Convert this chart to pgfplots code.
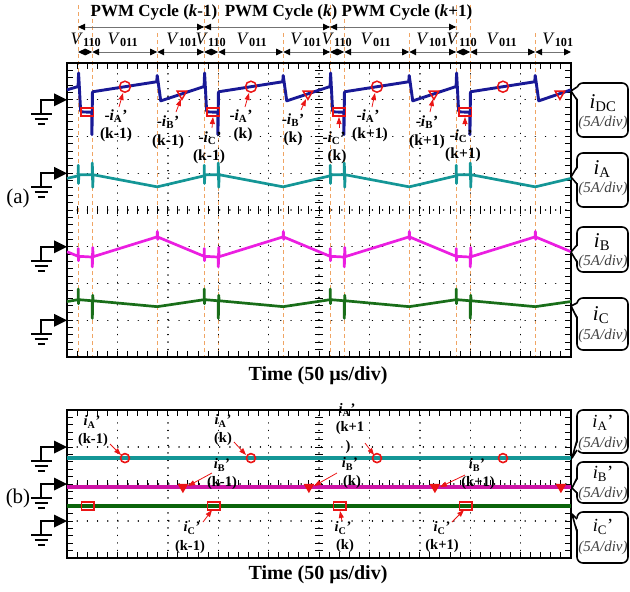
\documentclass[border=0pt]{standalone}
\usepackage{fontspec}
\setmainfont{Liberation Serif}
\usepackage{pgfplots}
\pgfplotsset{compat=1.18}
\usetikzlibrary{arrows.meta}
\definecolor{cDC}{RGB}{25,25,150}
\definecolor{cA}{RGB}{20,150,150}
\definecolor{cB}{RGB}{235,30,225}
\definecolor{cC}{RGB}{25,110,25}
\definecolor{cAp}{RGB}{20,150,150}
\definecolor{cBp}{RGB}{205,20,165}
\definecolor{cCp}{RGB}{10,100,10}
\definecolor{dsh}{RGB}{240,165,100}
\definecolor{mk}{RGB}{235,20,20}
\newcommand{\cur}[2]{\textit{i}\textsubscript{#1}#2}
\newcommand{\pr}{'}
\newcommand{\gnd}[1]{%
  \draw[line width=2.4pt] (56,#1) -- (41,#1) -- (41,#1+14);
  \fill (54,#1-6.5) -- (67,#1) -- (54,#1+6.5) -- cycle;
  \draw[line width=2.4pt] (31,#1+14) -- (52,#1+14);
  \draw[line width=2.4pt] (34.5,#1+19) -- (48,#1+19);
  \draw[line width=2.4pt] (38,#1+24) -- (45,#1+24);}
\newcommand{\callout}[6]{%
  \draw[line width=1.6pt, rounded corners=6pt, fill=white] (577,#1) rectangle (628,#2);
  \fill[white] (578.6,#3) -- (#5,#6) -- (578.6,#4) -- cycle;
  \draw[line width=1.6pt, line join=round] (577,#3) -- (#5,#6) -- (577,#4);}
\tikzset{
  lab/.style={font=\fontsize{15.5}{17}\selectfont\bfseries, inner sep=0pt},
  labb/.style={font=\fontsize{14.5}{16}\selectfont\bfseries, inner sep=0pt},
  rarr/.style={mk, line width=0.8pt, -{Triangle[length=7pt,width=5pt]}},
  harr/.style={black!55, line width=1pt, {Triangle[length=7pt,width=6.5pt,color=black]}-{Triangle[length=7pt,width=6.5pt,color=black]}},
  bt/.style={font=\fontsize{21}{23}\selectfont, inner sep=0pt},
  btb/.style={font=\fontsize{18.5}{20}\selectfont, inner sep=0pt},
  bs/.style={font=\fontsize{15}{17}\selectfont\itshape, text=black!75, inner sep=0pt},
}
\pgfplotsset{scope/.style={
  scale only axis, width=504pt, xmin=0, xmax=10,
  xtick={0,1,...,10}, minor x tick num=4, minor y tick num=4,
  xticklabels={}, yticklabels={},
  tick align=inside, major tick length=6pt, minor tick length=6pt,
  every tick/.style={black, line width=1pt},
  grid=major, major grid style={black, line width=1.4pt, line cap=round},
  y grid style={dash pattern=on 0.1pt off 10.08pt},
  axis line style={line width=1.8pt},
}}
\begin{document}
\begin{tikzpicture}
\useasboundingbox (0pt,0pt) rectangle (630pt,-592pt);
\begin{scope}[x=1pt,y=-1pt]
  \foreach \xx in {78.1,92.2,204.1,218.2,330.1,344.2,456.1,470.2}
    \draw[dsh, line width=0.9pt, dash pattern=on 4pt off 3pt] (\xx,5) -- (\xx,357);
  \foreach \xx in {157.2,283.2,409.2,535.2}
    \draw[dsh, line width=0.9pt, dash pattern=on 4pt off 3pt] (\xx,33) -- (\xx,357);
  \foreach \i in {1,...,39} \draw[line width=1pt] (315,63+\i*7.35) -- (323,63+\i*7.35);
  \foreach \i in {1,...,49} \draw[line width=1pt] (67+\i*10.08,206) -- (67+\i*10.08,214);
  \foreach \i in {1,...,19} \draw[line width=1pt] (315,410+\i*7.4) -- (323,410+\i*7.4);
  \foreach \i in {1,...,49} \draw[line width=1pt] (67+\i*10.08,480) -- (67+\i*10.08,488);
\end{scope}

\begin{axis}[scope, at={(67pt,-357pt)}, anchor=south west, height=294pt,
  ymin=0, ymax=8, ytick={0,1,...,8},
  x grid style={dash pattern=on 0.1pt off 7.35pt}]
\addplot[cDC, line width=2.9pt, line join=round] coordinates {(0,7.27)
 (0.22,7.36)(0.23,7.73)(0.27,6.70)(0.29,6.67)(0.49,6.66)(0.495,6.05)(0.505,7.20)(0.52,7.22)(1.78,7.49)(1.79,7.66)(1.86,6.97)
 (2.72,7.36)(2.73,7.73)(2.77,6.70)(2.79,6.67)(2.99,6.66)(2.995,6.05)(3.005,7.20)(3.02,7.22)(4.28,7.49)(4.29,7.66)(4.36,6.97)
 (5.22,7.36)(5.23,7.73)(5.27,6.70)(5.29,6.67)(5.49,6.66)(5.495,6.05)(5.505,7.20)(5.52,7.22)(6.78,7.49)(6.79,7.66)(6.86,6.97)
 (7.72,7.36)(7.73,7.73)(7.77,6.70)(7.79,6.67)(7.99,6.66)(7.995,6.05)(8.005,7.20)(8.02,7.22)(9.28,7.49)(9.29,7.66)(9.36,6.97)(10,7.27)};
\addplot[cA, line width=2.7pt, line join=round] coordinates {(0,4.86)
 (0.22,4.93)(0.223,5.22)(0.228,4.72)(0.235,4.96)(0.50,4.96)(0.503,5.28)(0.51,4.62)(0.52,4.96)(1.79,4.63)
 (2.72,4.93)(2.723,5.22)(2.728,4.72)(2.735,4.96)(3.00,4.96)(3.003,5.28)(3.01,4.62)(3.02,4.96)(4.29,4.63)
 (5.22,4.93)(5.223,5.22)(5.228,4.72)(5.235,4.96)(5.50,4.96)(5.503,5.28)(5.51,4.62)(5.52,4.96)(6.79,4.63)
 (7.72,4.93)(7.723,5.22)(7.728,4.72)(7.735,4.96)(8.00,4.96)(8.003,5.28)(8.01,4.62)(8.02,4.96)(9.29,4.63)(10,4.86)};
\addplot[cB, line width=2.7pt, line join=round] coordinates {(0,2.865)
 (0.22,2.74)(0.223,2.95)(0.228,2.62)(0.235,2.74)(0.50,2.72)(0.503,2.45)(0.51,2.98)(0.52,2.73)(1.79,3.27)(1.793,3.42)(1.80,3.20)(1.81,3.26)
 (2.72,2.74)(2.723,2.95)(2.728,2.62)(2.735,2.74)(3.00,2.72)(3.003,2.45)(3.01,2.98)(3.02,2.73)(4.29,3.27)(4.293,3.42)(4.30,3.20)(4.31,3.26)
 (5.22,2.74)(5.223,2.95)(5.228,2.62)(5.235,2.74)(5.50,2.72)(5.503,2.45)(5.51,2.98)(5.52,2.73)(6.79,3.27)(6.793,3.42)(6.80,3.20)(6.81,3.26)
 (7.72,2.74)(7.723,2.95)(7.728,2.62)(7.735,2.74)(8.00,2.72)(8.003,2.45)(8.01,2.98)(8.02,2.73)(9.29,3.27)(9.293,3.42)(9.30,3.20)(9.31,3.26)(10,2.865)};
\addplot[cC, line width=2.7pt, line join=round] coordinates {(0,1.51)
 (0.22,1.56)(0.223,1.85)(0.228,1.45)(0.235,1.56)(0.50,1.53)(0.503,1.05)(0.51,1.68)(0.52,1.53)(1.79,1.37)
 (2.72,1.56)(2.723,1.85)(2.728,1.45)(2.735,1.56)(3.00,1.53)(3.003,1.05)(3.01,1.68)(3.02,1.53)(4.29,1.37)
 (5.22,1.56)(5.223,1.85)(5.228,1.45)(5.235,1.56)(5.50,1.53)(5.503,1.05)(5.51,1.68)(5.52,1.53)(6.79,1.37)
 (7.72,1.56)(7.723,1.85)(7.728,1.45)(7.735,1.56)(8.00,1.53)(8.003,1.05)(8.01,1.68)(8.02,1.53)(9.29,1.37)(10,1.51)};
\addplot[only marks, mark=o, mark size=5.5pt, mk, line width=1.5pt] coordinates {(1.15,7.355)(3.65,7.355)(6.15,7.355)(8.65,7.355)};
\addplot[only marks, mark=triangle, mark size=5.5pt, mk, line width=1.5pt, mark options={rotate=180}] coordinates {(2.28,7.16)(4.78,7.16)(7.28,7.16)(9.78,7.16)};
\addplot[only marks, mark=square, mark size=4pt, mk, line width=1.5pt, mark options={xscale=1.6}] coordinates {(0.4,6.67)(2.9,6.67)(5.4,6.67)(7.9,6.67)};
\end{axis}

\begin{axis}[scope, at={(67pt,-558pt)}, anchor=south west, height=148pt,
  ymin=0, ymax=4, ytick={0,1,...,4},
  x grid style={dash pattern=on 0.1pt off 7.4pt}]
\addplot[cAp, line width=3.6pt] coordinates {(0,2.70)(10,2.70)};
\addplot[cBp, line width=4.2pt] coordinates {(0,1.92)(10,1.92)};
\addplot[cCp, line width=3.6pt] coordinates {(0,1.41)(10,1.41)};
\addplot[only marks, mark=o, mark size=4.5pt, mk, line width=1.6pt] coordinates {(1.15,2.70)(3.65,2.70)(6.15,2.70)(8.65,2.70)};
\addplot[only marks, mark=triangle*, mark size=5pt, mk, fill=mk, line width=1.2pt, mark options={rotate=180}] coordinates {(2.30,1.92)(4.80,1.92)(7.30,1.92)(9.80,1.92)};
\addplot[only marks, mark=square, mark size=3.8pt, mk, line width=1.8pt, mark options={xscale=1.6}] coordinates {(0.41,1.41)(2.91,1.41)(5.41,1.41)(7.91,1.41)};
\end{axis}

\begin{scope}[x=1pt,y=-1pt]
  % header
  \node[font=\fontsize{17}{19}\selectfont\bfseries, inner sep=0pt] at (154,12) {PWM Cycle (\textit{k}-1)};
  \node[font=\fontsize{17}{19}\selectfont\bfseries, inner sep=0pt] at (281,12) {PWM Cycle (\textit{k})};
  \node[font=\fontsize{17}{19}\selectfont\bfseries, inner sep=0pt] at (407,12) {PWM Cycle (\textit{k}+1)};
  \draw[harr] (78.1,27) -- (204.1,27);
  \draw[harr] (204.1,27) -- (330.1,27);
  \draw[harr] (330.1,27) -- (456.1,27);
  \foreach \a/\b in {78.1/92.2,92.2/157.2,157.2/204.1,204.1/218.2,218.2/283.2,283.2/330.1,330.1/344.2,344.2/409.2,409.2/456.1,456.1/470.2,470.2/535.2,535.2/571}
    \draw[harr] (\a,52) -- (\b,52);
  \foreach \x/\s in {86/110,123/011,182/101,211/110,252/011,306/101,337/110,376/011,432/101,462/110,502/011,558/101}
    \node[font=\fontsize{17.5}{19}\selectfont, inner sep=0pt] at (\x,40) {\textit{V}\textsubscript{\textbf{\s}}};
  % ground symbols
  \gnd{99.75} \gnd{173.25} \gnd{246.75} \gnd{320.25}
  \gnd{447} \gnd{484} \gnd{521}
  \node[font=\fontsize{21}{23}\selectfont, inner sep=0pt] at (18,198) {(a)};
  \node[font=\fontsize{21}{23}\selectfont, inner sep=0pt] at (18,498) {(b)};
  \node[font=\fontsize{20}{22}\selectfont\bfseries, inner sep=0pt] at (318,376) {Time (50 µs/div)};
  \node[font=\fontsize{20}{22}\selectfont\bfseries, inner sep=0pt] at (318,575) {Time (50 µs/div)};
  % labels (a)
  \node[lab] at (116,116) {-\cur{A}{\pr}}; \node[lab] at (116,135) {(k-1)};
  \draw[rarr] (119,107) -- (123,93);
  \node[lab] at (168,122) {-\cur{B}{\pr}}; \node[lab] at (168,142) {(k-1)};
  \draw[rarr] (176,112) -- (181,99);
  \node[lab] at (210,138) {-\cur{C}{\pr}}; \node[lab] at (209,157) {(k-1)};
  \draw[rarr] (212,128) -- (213,117);
  \node[lab] at (241,116) {-\cur{A}{\pr}}; \node[lab] at (243,135) {(k)};
  \draw[rarr] (245,107) -- (249,93);
  \node[lab] at (293,120) {-\cur{B}{\pr}}; \node[lab] at (293,139) {(k)};
  \draw[rarr] (301,110) -- (306,99);
  \node[lab] at (334,138) {-\cur{C}{\pr}}; \node[lab] at (337,157) {(k)};
  \draw[rarr] (339,128) -- (339,117);
  \node[lab] at (368,116) {-\cur{A}{\pr}}; \node[lab] at (370,135) {(k+1)};
  \draw[rarr] (372,107) -- (375,93);
  \node[lab] at (427,122) {-\cur{B}{\pr}}; \node[lab] at (427,142) {(k+1)};
  \draw[rarr] (430,112) -- (433,99);
  \node[lab] at (461,136) {-\cur{C}{\pr}}; \node[lab] at (463,155) {(k+1)};
  \draw[rarr] (465,126) -- (465,117);
  % labels (b)
  \node[labb] at (92,422) {\cur{A}{\pr}}; \node[labb] at (93,440) {(k-1)};
  \draw[rarr] (110,444) -- (121,455);
  \node[labb] at (223,421) {\cur{A}{\pr}}; \node[labb] at (223,439) {(k)};
  \draw[rarr] (234,442) -- (246,455);
  \node[labb] at (347,410) {\cur{A}{\pr}}; \node[labb] at (350,428) {(k+1}; \node[labb] at (348,447) {)};
  \draw[rarr] (365,443) -- (374,455);
  \node[labb] at (222,465) {\cur{B}{\pr}}; \node[labb] at (222,483) {(k-1)};
  \draw[rarr] (212,473) -- (188,486);
  \node[labb] at (350,464) {\cur{B}{\pr}}; \node[labb] at (352,482) {(k)};
  \draw[rarr] (337,473) -- (314,486);
  \node[labb] at (477,465) {\cur{B}{\pr}}; \node[labb] at (478,483) {(k+1)};
  \draw[rarr] (465,475) -- (440,487);
  \node[labb] at (192,528) {\cur{C}{\pr}}; \node[labb] at (190,547) {(k-1)};
  \draw[rarr] (203,522) -- (212,510);
  \node[labb] at (343,528) {\cur{C}{\pr}}; \node[labb] at (345,546) {(k)};
  \draw[rarr] (342,521) -- (340,511);
  \node[labb] at (442,528) {\cur{C}{\pr}}; \node[labb] at (442,546) {(k+1)};
  \draw[rarr] (452,522) -- (464,510);
  % callout boxes
  \callout{83}{137}{87}{100}{571}{91}
  \node[bt] at (603,103) {\cur{DC}{}}; \node[bs] at (603,123) {(5A/div)};
  \callout{153}{207}{167}{184}{571}{177}
  \node[bt] at (602,169) {\cur{A}{}}; \node[bs] at (603,189) {(5A/div)};
  \callout{227}{272}{245}{262}{571}{252}
  \node[bt] at (602,242) {\cur{B}{}}; \node[bs] at (603,262) {(5A/div)};
  \callout{298}{350}{303}{318}{571}{306}
  \node[bt] at (601,315) {\cur{C}{}}; \node[bs] at (603,336) {(5A/div)};
  \callout{410}{453}{440}{450}{572}{458}
  \node[btb] at (603,423) {\cur{A}{\pr}}; \node[bs] at (603,444) {(5A/div)};
  \callout{462}{503}{478}{493}{572}{488}
  \node[btb] at (603,474) {\cur{B}{\pr}}; \node[bs] at (603,494) {(5A/div)};
  \callout{512}{563}{519}{532}{572}{514}
  \node[btb] at (603,527) {\cur{C}{\pr}}; \node[bs] at (603,548) {(5A/div)};
\end{scope}
\end{tikzpicture}
\end{document}
